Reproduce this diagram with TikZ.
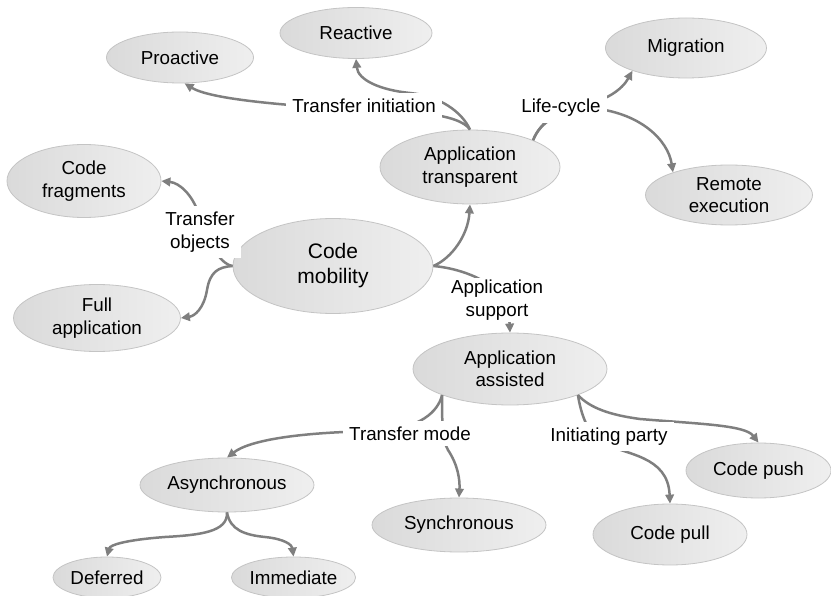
\documentclass[tikz,border=0pt]{standalone}
\usepackage{fontspec}
\setmainfont{Liberation Sans}
\usetikzlibrary{shapes.geometric,arrows.meta}
\definecolor{edgegray}{HTML}{7F7F7F}
\definecolor{rimgray}{HTML}{C4C4C4}
\definecolor{fillL}{HTML}{DADADA}
\definecolor{fillR}{HTML}{EFEFEF}
\begin{document}
\begin{tikzpicture}[x=1pt,y=-1pt,
  topic/.style={ellipse, draw=rimgray, line width=0.8pt, left color=fillL, right color=fillR,
    inner sep=0pt, align=center, font=\fontsize{18.8}{22.5}\selectfont},
  branch/.style={fill=white, inner sep=6pt, align=center, font=\fontsize{18.8}{22.5}\selectfont},
  link/.style={draw=edgegray, line width=2.5pt, -{Triangle[length=9pt,width=8.5pt]}}]
\useasboundingbox (0,0) rectangle (831,596);

% concepts
\node[topic, minimum width=152pt, minimum height=51pt] (re) at (356,33) {Reactive};
\node[topic, minimum width=147pt, minimum height=51pt] (pro) at (180,57.5) {Proactive};
\node[topic, minimum width=161pt, minimum height=60pt] (mig) at (686,48) {Migration};
\node[topic, minimum width=180pt, minimum height=74pt] (at) at (470,167) {Application\\transparent};
\node[topic, minimum width=167pt, minimum height=60pt] (rem) at (729,195) {Remote\\execution};
\node[topic, minimum width=154pt, minimum height=73pt] (cf) at (84,181) {Code\\fragments};
\node[topic, minimum width=200pt, minimum height=95pt, font=\fontsize{21}{25}\selectfont] (cm) at (333,266) {Code\\mobility};
\node[topic, minimum width=167pt, minimum height=67pt] (fa) at (97,318) {Full\\application};
\node[topic, minimum width=194pt, minimum height=72pt] (aa) at (510,369) {Application\\assisted};
\node[topic, minimum width=145pt, minimum height=55pt] (cps) at (758.5,470.5) {Code push};
\node[topic, minimum width=154pt, minimum height=61pt] (cpl) at (670,534.5) {Code pull};
\node[topic, minimum width=174pt, minimum height=54pt] (sy) at (459,525) {Synchronous};
\node[topic, minimum width=174pt, minimum height=54pt] (as) at (227,485) {Asynchronous};
\node[topic, minimum width=108pt, minimum height=41pt] (def) at (107,577.5) {Deferred};
\node[topic, minimum width=107pt, minimum height=41pt] (im) at (293.5,577.5) {Immediate};

% branches
\draw[link] (at.90) .. controls (462,112) and (440,96) .. (410,93) .. controls (380,90) and (358,80) .. (re.south);
\draw[link] (at.90) .. controls (465,122) and (450,116) .. (420,113) .. controls (320,108) and (215,102) .. (pro.-80);
\draw[link] (at.23) .. controls (540,122) and (560,108) .. (585,104) .. controls (605,101) and (622,90) .. (mig.-157);
\draw[link] (at.23) .. controls (540,122) and (560,110) .. (590,108) .. controls (640,112) and (668,140) .. (rem.158);
\draw[link] (cm.east) .. controls (452,258) and (468,235) .. (at.south);
\draw[link] (cm.east) .. controls (455,268) and (475,275) .. (490,285) .. controls (505,295) and (509,310) .. (aa.north);
\draw[link] (cm.west) .. controls (218,264) and (205,235) .. (198,212) .. controls (192,195) and (180,183) .. (cf.east);
\draw[link] (cm.west) .. controls (218,267) and (210,272) .. (207,290) .. controls (204,308) and (195,316) .. (fa.east);
\draw[link] (aa.-159) .. controls (438,412) and (420,428) .. (380,431) .. controls (300,432) and (250,440) .. (as.north);
\draw[link] (aa.-159) .. controls (442,420) and (442,440) .. (448,450) .. controls (458,465) and (460,480) .. (sy.north);
\draw[link] (aa.-21) .. controls (580,408) and (585,430) .. (600,442) .. controls (625,455) and (668,455) .. (cpl.north);
\draw[link] (aa.-21) .. controls (590,408) and (610,415) .. (640,419) .. controls (700,424) and (745,425) .. (cps.north);
\draw[link] (as.south) .. controls (228,532) and (200,535) .. (165,537) .. controls (125,540) and (110,545) .. (def.north);
\draw[link] (as.south) .. controls (230,530) and (245,535) .. (265,537) .. controls (285,539) and (292,545) .. (im.north);

% branch labels, on top of the lines
\node[branch] (ti) at (364,106) {Transfer initiation};
\node[branch] (lc) at (561,108) {Life-cycle};
\node[branch] (tob) at (200,232) {Transfer\\objects};
\node[branch, inner ysep=2pt] (aps) at (497,300) {Application\\support};
\node[branch] (tm) at (410,433.5) {Transfer mode};
\node[branch] (ip) at (609,436.5) {Initiating party};
\end{tikzpicture}
\end{document}
